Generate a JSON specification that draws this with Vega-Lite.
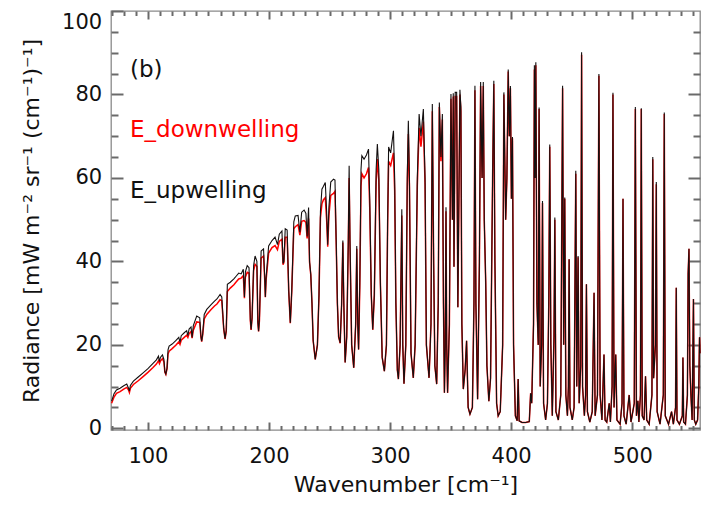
{
  "$schema": "https://vega.github.io/schema/vega-lite/v6.json",
  "width": 589,
  "height": 419,
  "autosize": {"type": "none"},
  "padding": {"left": 111, "top": 11, "right": 15, "bottom": 77},
  "background": "white",
  "config": {
    "view": {"stroke": "#8a8a8a", "strokeWidth": 1.3},
    "axis": {
      "domain": false, "grid": false, "ticks": true, "tickColor": "#6a6a6a", "tickWidth": 2, "tickOpacity": 1,
      "labelFont": "DejaVu Sans", "labelFontSize": 21, "labelColor": "#111",
      "titleFont": "DejaVu Sans", "titleFontSize": 22, "titleFontWeight": "normal", "titleColor": "#111",
      "labelOverlap": false, "labelBound": false
    }
  },
  "data": {"values": [
      {"wn":70,"up":6.5,"down":6.0},{"wn":72,"up":8.3,"down":7.5},{"wn":74,"up":9.2,"down":8.4},{"wn":77,"up":9.6,"down":8.8},
      {"wn":80,"up":10.2,"down":9.4},{"wn":82.5,"up":10.6,"down":9.8},{"wn":84,"up":9.6,"down":9.2},{"wn":84.7,"up":8.9,"down":8.6},
      {"wn":85.5,"up":10.3,"down":9.6},{"wn":88,"up":11.3,"down":10.5},{"wn":92,"up":12.3,"down":11.4},{"wn":96,"up":13.3,"down":12.4},
      {"wn":100,"up":14.3,"down":13.4},{"wn":104,"up":15.5,"down":14.5},{"wn":107,"up":16.4,"down":15.4},{"wn":108.7,"up":17.3,"down":16.2},
      {"wn":109.5,"up":16.0,"down":15.5},{"wn":110.3,"up":17.0,"down":16.1},{"wn":112,"up":17.6,"down":16.7},{"wn":113.2,"up":16.5,"down":15.9},
      {"wn":114,"up":13.6,"down":13.4},{"wn":114.8,"up":13.0,"down":12.9},{"wn":115.8,"up":14.5,"down":14.3},{"wn":116.6,"up":18.8,"down":17.8},
      {"wn":117.5,"up":19.7,"down":18.5},{"wn":120,"up":20.2,"down":19.1},{"wn":123,"up":21.0,"down":19.9},{"wn":125.5,"up":21.8,"down":20.7},
      {"wn":126.5,"up":20.6,"down":20.1},{"wn":127.5,"up":22.2,"down":21.1},{"wn":130,"up":22.9,"down":21.8},{"wn":132,"up":23.4,"down":22.3},
      {"wn":133,"up":22.2,"down":21.8},{"wn":134,"up":23.8,"down":22.7},{"wn":135.6,"up":24.3,"down":23.2},{"wn":136.5,"up":21.8,"down":21.6},
      {"wn":137.5,"up":24.6,"down":23.5},{"wn":140.3,"up":26.9,"down":25.5},{"wn":142.8,"up":26.5,"down":25.4},{"wn":143.8,"up":22.0,"down":21.8},
      {"wn":144.4,"up":20.9,"down":20.8},{"wn":145.2,"up":22.5,"down":22.3},{"wn":146.5,"up":27.3,"down":26.2},{"wn":148.6,"up":28.5,"down":27.3},
      {"wn":152,"up":29.6,"down":28.4},{"wn":155,"up":30.5,"down":29.3},{"wn":157,"up":31.0,"down":29.8},{"wn":159.6,"up":32.1,"down":30.8},
      {"wn":161,"up":31.5,"down":30.6},{"wn":162.6,"up":24.0,"down":23.8},{"wn":163.7,"up":21.5,"down":21.4},{"wn":164.7,"up":23.5,"down":23.3},
      {"wn":165.6,"up":34.5,"down":32.8},{"wn":168,"up":35.0,"down":33.6},{"wn":171,"up":35.8,"down":34.4},{"wn":173,"up":36.5,"down":35.1},
      {"wn":175,"up":37.2,"down":35.8},{"wn":177,"up":37.0,"down":36.0},{"wn":178.8,"up":38.1,"down":36.6},{"wn":179.7,"up":31.5,"down":31.2},
      {"wn":180.5,"up":37.5,"down":36.2},{"wn":182,"up":39.0,"down":37.4},{"wn":183.5,"up":38.5,"down":37.2},{"wn":184.6,"up":26.0,"down":25.8},
      {"wn":185.2,"up":23.7,"down":23.6},{"wn":186,"up":26.5,"down":26.3},{"wn":187.3,"up":39.0,"down":37.8},{"wn":188.5,"up":41.3,"down":39.3},
      {"wn":190,"up":40.0,"down":38.8},{"wn":190.8,"up":25.5,"down":25.3},{"wn":191.4,"up":23.3,"down":23.2},{"wn":192.1,"up":26.0,"down":25.8},
      {"wn":193.5,"up":42.5,"down":40.8},{"wn":195.5,"up":43.0,"down":41.3},{"wn":196.5,"up":36.0,"down":35.5},{"wn":197,"up":31.5,"down":31.4},
      {"wn":197.6,"up":36.0,"down":35.5},{"wn":199.7,"up":43.7,"down":42.0},{"wn":202.5,"up":45.0,"down":43.3},{"wn":205,"up":45.8,"down":43.8},
      {"wn":207,"up":44.0,"down":42.8},{"wn":208.5,"up":46.5,"down":44.8},{"wn":210.7,"up":47.3,"down":45.3},{"wn":211.6,"up":39.5,"down":39.2},
      {"wn":212.3,"up":40.0,"down":39.7},{"wn":213.4,"up":47.8,"down":45.8},{"wn":215,"up":47.5,"down":45.8},{"wn":216.3,"up":33.0,"down":32.8},
      {"wn":217.6,"up":25.3,"down":25.2},{"wn":218.8,"up":33.0,"down":32.8},{"wn":220.5,"up":49.5,"down":47.8},{"wn":221.7,"up":50.9,"down":48.3},
      {"wn":224,"up":51.0,"down":48.8},{"wn":225.5,"up":47.0,"down":46.3},{"wn":227,"up":51.8,"down":49.6},{"wn":229,"up":52.3,"down":49.8},
      {"wn":230.5,"up":51.5,"down":49.3},{"wn":231.5,"up":46.0,"down":45.5},{"wn":232.7,"up":52.9,"down":50.3},{"wn":233.5,"up":40.0,"down":39.8},
      {"wn":234.5,"up":37.0,"down":36.8},{"wn":235.5,"up":30.0,"down":29.9},{"wn":236.5,"up":21.0,"down":21.0},{"wn":238.2,"up":16.5,"down":16.5},
      {"wn":240,"up":20.0,"down":20.0},{"wn":241.3,"up":32.0,"down":31.9},{"wn":242.5,"up":52.0,"down":50.5},{"wn":243.7,"up":57.3,"down":53.8},
      {"wn":245,"up":58.0,"down":54.8},{"wn":246.5,"up":58.9,"down":55.3},{"wn":247.6,"up":52.0,"down":50.0},{"wn":248.5,"up":44.0,"down":43.5},
      {"wn":249.5,"up":53.0,"down":51.0},{"wn":251,"up":59.0,"down":55.8},{"wn":253.3,"up":59.7,"down":56.3},{"wn":254.5,"up":59.5,"down":56.8},
      {"wn":255.5,"up":45.0,"down":44.5},{"wn":256.5,"up":30.0,"down":29.8},{"wn":257.5,"up":22.0,"down":21.9},{"wn":258.8,"up":20.5,"down":20.4},
      {"wn":260,"up":30.0,"down":29.8},{"wn":261,"up":45.0,"down":44.5},{"wn":261.8,"up":30.0,"down":29.8},{"wn":262.9,"up":15.8,"down":15.8},
      {"wn":264.2,"up":22.0,"down":21.9},{"wn":265.5,"up":45.0,"down":44.0},{"wn":266.2,"up":62.9,"down":60.0},{"wn":266.9,"up":45.0,"down":44.0},
      {"wn":268.3,"up":20.0,"down":20.0},{"wn":270,"up":14.5,"down":14.5},{"wn":271.6,"up":25.0,"down":24.9},{"wn":272.5,"up":43.7,"down":43.0},
      {"wn":273.3,"up":25.0,"down":24.9},{"wn":274,"up":18.9,"down":18.9},{"wn":275,"up":35.0,"down":34.0},{"wn":276,"up":62.0,"down":58.0},
      {"wn":276.7,"up":65.3,"down":61.0},{"wn":278.5,"up":64.5,"down":60.0},{"wn":280.5,"up":65.5,"down":61.0},{"wn":282.2,"up":66.9,"down":62.5},
      {"wn":283.2,"up":55.0,"down":53.0},{"wn":284.5,"up":32.0,"down":31.8},{"wn":285.7,"up":23.7,"down":23.6},{"wn":287,"up":32.0,"down":31.8},
      {"wn":288.5,"up":62.0,"down":59.0},{"wn":289.5,"up":68.1,"down":64.5},{"wn":290.7,"up":62.0,"down":59.5},{"wn":292,"up":35.0,"down":34.8},
      {"wn":293.5,"up":17.0,"down":17.0},{"wn":295.3,"up":13.7,"down":13.7},{"wn":297,"up":20.0,"down":20.0},{"wn":298,"up":50.0,"down":49.0},
      {"wn":298.8,"up":67.4,"down":64.0},{"wn":300.5,"up":66.0,"down":63.0},{"wn":302.8,"up":71.3,"down":66.0},{"wn":303.8,"up":60.0,"down":57.0},
      {"wn":304.8,"up":30.0,"down":30.0},{"wn":306,"up":14.0,"down":14.0},{"wn":306.9,"up":11.8,"down":11.8},{"wn":308.3,"up":20.0,"down":20.0},
      {"wn":309.7,"up":52.5,"down":51.0},{"wn":310.5,"up":20.0,"down":20.0},{"wn":311.5,"up":10.7,"down":10.7},{"wn":313,"up":20.0,"down":20.0},
      {"wn":314.2,"up":60.0,"down":58.0},{"wn":315.1,"up":73.7,"down":70.5},{"wn":316,"up":60.0,"down":58.0},{"wn":317.3,"up":18.0,"down":18.0},
      {"wn":319.2,"up":12.1,"down":12.1},{"wn":320.7,"up":20.0,"down":20.0},{"wn":322.5,"up":60.0,"down":58.0},{"wn":324,"up":75.3,"down":72.0},
      {"wn":325.5,"up":70.0,"down":67.5},{"wn":327.5,"up":76.5,"down":73.5},{"wn":328.9,"up":60.0,"down":58.5},{"wn":330,"up":20.0,"down":20.0},
      {"wn":332.2,"up":12.1,"down":12.1},{"wn":333.8,"up":25.0,"down":25.0},{"wn":334.9,"up":77.7,"down":76.0},{"wn":336,"up":40.0,"down":40.0},
      {"wn":337,"up":15.0,"down":15.0},{"wn":338.5,"up":10.6,"down":10.6},{"wn":339.8,"up":30.0,"down":30.0},{"wn":340.7,"up":78.1,"down":77.0},
      {"wn":342,"up":65.0,"down":64.0},{"wn":343.2,"up":75.3,"down":74.0},{"wn":344.1,"up":30.0,"down":30.0},{"wn":344.9,"up":8.5,"down":8.5},
      {"wn":345.6,"up":20.0,"down":20.0},{"wn":346.2,"up":53.0,"down":52.0},{"wn":346.8,"up":20.0,"down":20.0},{"wn":347.5,"up":8.5,"down":8.5},
      {"wn":349,"up":25.0,"down":25.0},{"wn":350.3,"up":80.1,"down":79.0},{"wn":351.5,"up":50.0,"down":50.0},{"wn":352.2,"up":80.3,"down":79.5},
      {"wn":352.8,"up":38.7,"down":38.7},{"wn":353.8,"up":80.5,"down":79.5},{"wn":355,"up":80.5,"down":79.5},{"wn":356,"up":29.0,"down":29.0},
      {"wn":357.7,"up":81.1,"down":80.0},{"wn":358.5,"up":77.0,"down":76.0},{"wn":359.3,"up":25.0,"down":25.0},{"wn":360.5,"up":9.4,"down":9.4},
      {"wn":362,"up":14.0,"down":14.0},{"wn":363.2,"up":21.0,"down":21.0},{"wn":364.5,"up":5.0,"down":5.0},{"wn":366,"up":3.4,"down":3.4},
      {"wn":368,"up":5.0,"down":5.0},{"wn":369.3,"up":30.0,"down":30.0},{"wn":370.1,"up":82.1,"down":81.0},{"wn":370.9,"up":30.0,"down":30.0},
      {"wn":372.3,"up":7.0,"down":7.0},{"wn":373.8,"up":40.0,"down":40.0},{"wn":374.8,"up":83.0,"down":82.0},{"wn":376,"up":60.0,"down":60.0},
      {"wn":377,"up":83.0,"down":82.0},{"wn":377.8,"up":50.0,"down":50.0},{"wn":379,"up":35.0,"down":35.0},{"wn":380,"up":15.0,"down":15.0},
      {"wn":381.6,"up":6.5,"down":6.5},{"wn":383,"up":12.0,"down":12.0},{"wn":384.7,"up":60.0,"down":60.0},{"wn":385.7,"up":83.3,"down":82.5},
      {"wn":386.6,"up":40.0,"down":40.0},{"wn":388,"up":6.0,"down":6.0},{"wn":389.3,"up":3.0,"down":3.0},{"wn":391,"up":4.0,"down":4.0},
      {"wn":393,"up":20.0,"down":20.0},{"wn":394,"up":80.5,"down":80.0},{"wn":395.5,"up":50.0,"down":50.0},{"wn":396.5,"up":60.0,"down":60.0},
      {"wn":397.6,"up":86.0,"down":85.5},{"wn":398.5,"up":70.0,"down":70.0},{"wn":399.4,"up":82.0,"down":81.5},{"wn":400.2,"up":55.0,"down":55.0},
      {"wn":401.1,"up":69.8,"down":69.5},{"wn":402,"up":20.0,"down":20.0},{"wn":403.5,"up":3.0,"down":3.0},{"wn":405,"up":1.8,"down":1.8},
      {"wn":405.8,"up":11.8,"down":11.8},{"wn":406.6,"up":1.8,"down":1.8},{"wn":409,"up":1.4,"down":1.4},{"wn":412,"up":1.4,"down":1.4},
      {"wn":415,"up":1.6,"down":1.6},{"wn":416.1,"up":8.4,"down":8.4},{"wn":417,"up":6.0,"down":6.0},{"wn":418.5,"up":25.0,"down":25.0},
      {"wn":419.2,"up":87.0,"down":86.0},{"wn":419.8,"up":60.0,"down":60.0},{"wn":420.4,"up":87.7,"down":87.0},{"wn":421.3,"up":30.0,"down":30.0},
      {"wn":422.4,"up":20.0,"down":20.0},{"wn":423.1,"up":76.9,"down":76.5},{"wn":424,"up":10.0,"down":10.0},{"wn":425.2,"up":20.0,"down":20.0},
      {"wn":425.9,"up":54.5,"down":54.0},{"wn":426.8,"up":6.0,"down":6.0},{"wn":428.5,"up":2.0,"down":2.0},{"wn":430,"up":6.0,"down":6.0},
      {"wn":431.1,"up":30.0,"down":30.0},{"wn":431.9,"up":68.0,"down":67.5},{"wn":432.8,"up":20.0,"down":20.0},{"wn":434,"up":3.0,"down":3.0},
      {"wn":435.4,"up":22.0,"down":22.0},{"wn":436.1,"up":50.5,"down":50.0},{"wn":437,"up":4.0,"down":4.0},{"wn":439,"up":2.0,"down":2.0},
      {"wn":441,"up":8.0,"down":8.0},{"wn":442.5,"up":82.1,"down":81.5},{"wn":443.4,"up":20.0,"down":20.0},{"wn":444.3,"up":55.3,"down":55.0},
      {"wn":445.2,"up":8.0,"down":8.0},{"wn":446.5,"up":3.0,"down":3.0},{"wn":447.3,"up":10.0,"down":10.0},{"wn":447.9,"up":40.5,"down":40.5},
      {"wn":448.6,"up":5.0,"down":5.0},{"wn":450.5,"up":2.0,"down":2.0},{"wn":452,"up":5.0,"down":5.0},{"wn":453.4,"up":61.7,"down":61.0},
      {"wn":454.2,"up":10.0,"down":10.0},{"wn":455.3,"up":41.3,"down":41.0},{"wn":456.2,"up":6.0,"down":6.0},{"wn":457.5,"up":15.0,"down":15.0},
      {"wn":458.2,"up":90.1,"down":89.5},{"wn":459,"up":10.0,"down":10.0},{"wn":460.5,"up":3.0,"down":3.0},{"wn":461.5,"up":8.0,"down":8.0},
      {"wn":462.2,"up":34.5,"down":34.5},{"wn":463,"up":4.0,"down":4.0},{"wn":465,"up":1.5,"down":1.5},{"wn":467,"up":4.0,"down":4.0},
      {"wn":468.5,"up":32.5,"down":32.5},{"wn":469.4,"up":3.0,"down":3.0},{"wn":471.3,"up":8.0,"down":8.0},{"wn":472.5,"up":84.9,"down":84.5},
      {"wn":473.5,"up":8.0,"down":8.0},{"wn":475,"up":2.0,"down":2.0},{"wn":476.7,"up":17.7,"down":17.7},{"wn":477.6,"up":2.0,"down":2.0},
      {"wn":479,"up":1.5,"down":1.5},{"wn":481,"up":6.0,"down":6.0},{"wn":482,"up":1.5,"down":1.5},{"wn":483.4,"up":10.0,"down":10.0},
      {"wn":484.1,"up":80.4,"down":80.0},{"wn":485,"up":5.0,"down":5.0},{"wn":486.4,"up":17.7,"down":17.7},{"wn":487.4,"up":2.0,"down":2.0},
      {"wn":490,"up":1.0,"down":1.0},{"wn":491.6,"up":6.0,"down":6.0},{"wn":492.4,"up":55.0,"down":55.0},{"wn":493.2,"up":3.0,"down":3.0},
      {"wn":495,"up":1.0,"down":1.0},{"wn":497.5,"up":8.0,"down":8.0},{"wn":499,"up":1.5,"down":1.5},{"wn":501.7,"up":6.0,"down":6.0},
      {"wn":502.6,"up":77.0,"down":76.5},{"wn":503.5,"up":3.0,"down":3.0},{"wn":504.7,"up":6.6,"down":6.6},{"wn":505.5,"up":1.5,"down":1.5},
      {"wn":506.8,"up":8.0,"down":8.0},{"wn":507.5,"up":76.7,"down":76.5},{"wn":508.3,"up":3.0,"down":3.0},{"wn":509.8,"up":2.0,"down":2.0},
      {"wn":511,"up":12.5,"down":12.5},{"wn":512,"up":2.0,"down":2.0},{"wn":514,"up":1.0,"down":1.0},{"wn":516.3,"up":8.0,"down":8.0},
      {"wn":517,"up":65.0,"down":64.5},{"wn":517.7,"up":12.0,"down":12.0},{"wn":519.2,"up":20.0,"down":20.0},{"wn":519.9,"up":59.0,"down":58.5},
      {"wn":520.6,"up":4.0,"down":4.0},{"wn":523,"up":1.0,"down":1.0},{"wn":525.7,"up":8.0,"down":8.0},{"wn":526.5,"up":75.7,"down":75.3},
      {"wn":527.3,"up":3.0,"down":3.0},{"wn":530,"up":1.0,"down":1.0},{"wn":532.5,"up":4.0,"down":4.0},{"wn":534,"up":1.0,"down":1.0},
      {"wn":535.8,"up":5.0,"down":5.0},{"wn":536.4,"up":33.7,"down":33.7},{"wn":537,"up":2.0,"down":2.0},{"wn":539,"up":1.0,"down":1.0},
      {"wn":541.4,"up":3.0,"down":3.0},{"wn":541.9,"up":17.0,"down":17.0},{"wn":542.5,"up":1.5,"down":1.5},{"wn":544,"up":1.0,"down":1.0},
      {"wn":545.6,"up":8.0,"down":8.0},{"wn":546.2,"up":37.0,"down":37.0},{"wn":546.9,"up":43.0,"down":43.0},{"wn":547.6,"up":15.0,"down":15.0},
      {"wn":548.5,"up":8.0,"down":8.0},{"wn":549.5,"up":2.0,"down":2.0},{"wn":550.6,"up":31.0,"down":31.0},{"wn":551.3,"up":2.0,"down":2.0},
      {"wn":552.5,"up":1.0,"down":1.0},{"wn":554,"up":2.0,"down":2.0},{"wn":555,"up":10.0,"down":10.0},{"wn":555.6,"up":21.8,"down":21.8},
      {"wn":556,"up":18.0,"down":18.0}
  ]},
  "layer": [
    {
      "mark": {"type": "line", "color": "#ff0000", "strokeWidth": 1.5},
      "encoding": {
        "x": {
          "field": "wn", "type": "quantitative",
          "scale": {"domain": [69.5, 556], "nice": false, "zero": false},
          "axis": {
            "orient": "bottom", "ticks": true, "tickColor": "#6a6a6a", "tickWidth": 2,
            "values": [100, 200, 300, 400, 500],
            "tickSize": -8,
            "labelPadding": 23.7,
            "title": "Wavenumber  [cm⁻¹]",
            "titlePadding": 8
          }
        },
        "y": {
          "field": "down", "type": "quantitative",
          "scale": {"domain": [-0.4, 100], "nice": false, "zero": false},
          "axis": {
            "orient": "left", "ticks": true, "tickColor": "#6a6a6a", "tickWidth": 2,
            "values": [0, 20, 40, 60, 80, 100],
            "tickSize": -12,
            "labelPadding": 21.3,
            "labelFlush": true,
            "title": "Radiance  [mW m⁻² sr⁻¹ (cm⁻¹)⁻¹]",
            "titlePadding": 18
          }
        }
      }
    },
    {
      "mark": {"type": "line", "color": "#141010", "strokeWidth": 1.1},
      "encoding": {
        "x": {
          "field": "wn", "type": "quantitative",
          "scale": {"domain": [69.5, 556], "nice": false, "zero": false},
          "axis": {
            "orient": "top", "ticks": true, "tickColor": "#6a6a6a", "tickWidth": 2,
            "values": [100, 200, 300, 400, 500],
            "labels": false,
            "tickSize": -8,
            "title": null
          }
        },
        "y": {
          "field": "up", "type": "quantitative",
          "scale": {"domain": [-0.4, 100], "nice": false, "zero": false},
          "axis": {
            "orient": "right", "ticks": true, "tickColor": "#6a6a6a", "tickWidth": 2,
            "values": [0, 20, 40, 60, 80],
            "labels": false,
            "tickSize": -12,
            "title": null
          }
        }
      }
    },
    {
      "mark": {"type": "line", "color": "#141010", "strokeWidth": 1.1, "opacity": 0},
      "encoding": {
        "x": {
          "field": "wn", "type": "quantitative",
          "scale": {"domain": [69.5, 556], "nice": false, "zero": false},
          "axis": {
            "orient": "bottom", "ticks": true, "tickColor": "#6a6a6a", "tickWidth": 2,
            "values": [70,80,90,110,120,130,140,150,160,170,180,190,210,220,230,240,250,260,270,280,290,310,320,330,340,350,360,370,380,390,410,420,430,440,450,460,470,480,490,510,520,530,540,550],
            "labels": false, "tickSize": -4.5, "title": null
          }
        },
        "y": {
          "field": "up", "type": "quantitative",
          "scale": {"domain": [-0.4, 100], "nice": false, "zero": false},
          "axis": {"orient": "left", "ticks": true, "tickColor": "#6a6a6a", "tickWidth": 2, "values": [5,10,15,25,30,35,45,50,55,65,70,75,85,90,95], "labels": false, "tickSize": -7, "title": null}
        }
      }
    },
    {
      "mark": {"type": "line", "color": "#141010", "strokeWidth": 1.1, "opacity": 0},
      "encoding": {
        "x": {
          "field": "wn", "type": "quantitative",
          "scale": {"domain": [69.5, 556], "nice": false, "zero": false},
          "axis": {
            "orient": "top", "ticks": true, "tickColor": "#6a6a6a", "tickWidth": 2,
            "values": [70,80,90,110,120,130,140,150,160,170,180,190,210,220,230,240,250,260,270,280,290,310,320,330,340,350,360,370,380,390,410,420,430,440,450,460,470,480,490,510,520,530,540,550],
            "labels": false, "tickSize": -4.5, "title": null
          }
        },
        "y": {
          "field": "up", "type": "quantitative",
          "scale": {"domain": [-0.4, 100], "nice": false, "zero": false},
          "axis": {"orient": "right", "ticks": true, "tickColor": "#6a6a6a", "tickWidth": 2, "values": [5,10,15,25,30,35,45,50,55,65,70,75,85,90,95], "labels": false, "tickSize": -7, "title": null}
        }
      }
    },
    {
      "data": {"values": [
        {"label": "(b)", "wn": 85.2, "radiance": 84.2, "kind": "black"},
        {"label": "E_downwelling", "wn": 85.2, "radiance": 69.9, "kind": "red"},
        {"label": "E_upwelling", "wn": 85.2, "radiance": 55.1, "kind": "black"}
      ]},
      "mark": {"type": "text", "align": "left", "baseline": "alphabetic", "font": "DejaVu Sans", "fontSize": 23},
      "encoding": {
        "x": {"field": "wn", "type": "quantitative", "scale": {"domain": [69.5, 556], "nice": false, "zero": false}, "axis": null},
        "y": {"field": "radiance", "type": "quantitative", "scale": {"domain": [-0.4, 100], "nice": false, "zero": false}, "axis": null},
        "text": {"field": "label", "type": "nominal"},
        "color": {"field": "kind", "type": "nominal", "scale": {"domain": ["black", "red"], "range": ["#111111", "#ff0000"]}, "legend": null}
      }
    }
  ],
  "resolve": {"axis": {"x": "independent", "y": "independent"}}
}
